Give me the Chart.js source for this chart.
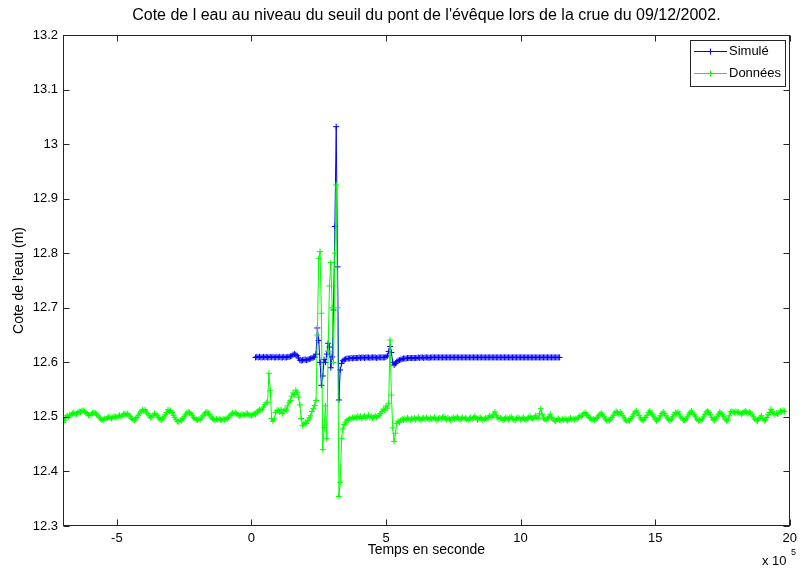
<!DOCTYPE html>
<html>
<head>
<meta charset="utf-8">
<script src="https://cdn.jsdelivr.net/npm/chart.js@4.4.0/dist/chart.umd.min.js"></script>
<style>
  html, body { margin: 0; padding: 0; background: #fff; }
  #wrap { width: 802px; height: 569px; }
</style>
</head>
<body>
<div id="wrap"><canvas id="chart" width="802" height="569"></canvas></div>
<script>
/* ===== textes ===== */
const titleText = "Cote de l eau au niveau du seuil du pont de l'évêque lors de la crue du 09/12/2002.";
const xTitle = "Temps en seconde";
const yTitle = "Cote de l'eau (m)";
const seriesNames = ["Simulé", "Données"];
const xExponent = "5";

/* ===== axes ===== */
const xMin = -700000, xMax = 2000000;
const xTickValues = [-500000, 0, 500000, 1000000, 1500000, 2000000];
const yMin = 12.3, yMax = 13.2;
const yTickValues = [12.3, 12.4, 12.5, 12.6, 12.7, 12.8, 12.9, 13.0, 13.1, 13.2];

/* ===== échantillonnage (s) ===== */
const sampleStep = 5000;
const donneesStart = -700000;
const simuleStart = 15000;

/* ===== mesures (m) ===== */
const donnees = [
  12.490, 12.494, 12.499, 12.502, 12.500, 12.504, 12.503, 12.506, 12.508, 12.506, 12.505, 12.508, 12.510, 12.509, 12.511, 12.512, 12.510, 12.508, 12.506, 12.503,
  12.503, 12.505, 12.507, 12.508, 12.507, 12.505, 12.502, 12.499, 12.496, 12.494, 12.495, 12.497, 12.496, 12.498, 12.500, 12.499, 12.497, 12.499, 12.501, 12.500,
  12.499, 12.501, 12.503, 12.500, 12.502, 12.505, 12.506, 12.504, 12.506, 12.503, 12.500, 12.497, 12.495, 12.494, 12.496, 12.499, 12.503, 12.507, 12.510, 12.513,
  12.511, 12.513, 12.509, 12.506, 12.502, 12.499, 12.500, 12.503, 12.506, 12.505, 12.502, 12.499, 12.496, 12.494, 12.497, 12.500, 12.504, 12.508, 12.513, 12.510,
  12.512, 12.508, 12.503, 12.499, 12.495, 12.492, 12.491, 12.494, 12.493, 12.497, 12.500, 12.504, 12.507, 12.509, 12.508, 12.506, 12.503, 12.499, 12.497, 12.495,
  12.494, 12.496, 12.495, 12.498, 12.502, 12.505, 12.508, 12.509, 12.507, 12.504, 12.500, 12.497, 12.495, 12.494, 12.496, 12.495, 12.497, 12.495, 12.494, 12.496,
  12.495, 12.497, 12.496, 12.499, 12.502, 12.505, 12.507, 12.506, 12.508, 12.506, 12.504, 12.502, 12.503, 12.505, 12.504, 12.503, 12.505, 12.506, 12.504, 12.503,
  12.502, 12.504, 12.506, 12.505, 12.508, 12.511, 12.513, 12.511, 12.514, 12.518, 12.522, 12.526, 12.527, 12.580, 12.548, 12.497, 12.492, 12.496, 12.508, 12.512,
  12.512, 12.509, 12.513, 12.506, 12.510, 12.514, 12.512, 12.520, 12.527, 12.530, 12.538, 12.544, 12.541, 12.549, 12.545, 12.536, 12.522, 12.497, 12.484, 12.487,
  12.490, 12.488, 12.494, 12.498, 12.502, 12.510, 12.515, 12.521, 12.530, 12.650, 12.790, 12.803, 12.690, 12.440, 12.480, 12.520, 12.460, 12.620, 12.740, 12.783,
  12.700, 12.600, 12.800, 12.925, 12.700, 12.354, 12.380, 12.460, 12.478, 12.486, 12.490, 12.494, 12.495, 12.497, 12.496, 12.499, 12.497, 12.500, 12.498, 12.501,
  12.499, 12.501, 12.497, 12.500, 12.502, 12.498, 12.500, 12.503, 12.499, 12.501, 12.498, 12.500, 12.502, 12.499, 12.501, 12.503, 12.506, 12.510, 12.514, 12.512,
  12.520, 12.516, 12.525, 12.641, 12.540, 12.480, 12.455, 12.470, 12.488, 12.492, 12.490, 12.494, 12.496, 12.494, 12.497, 12.495, 12.498, 12.496, 12.494, 12.497,
  12.496, 12.498, 12.495, 12.497, 12.499, 12.496, 12.494, 12.497, 12.498, 12.496, 12.499, 12.497, 12.495, 12.498, 12.496, 12.497, 12.499, 12.496, 12.494, 12.497,
  12.498, 12.496, 12.499, 12.501, 12.497, 12.495, 12.498, 12.496, 12.494, 12.497, 12.499, 12.496, 12.498, 12.500, 12.497, 12.495, 12.497, 12.499, 12.496, 12.498,
  12.496, 12.494, 12.497, 12.499, 12.496, 12.498, 12.501, 12.498, 12.495, 12.497, 12.499, 12.497, 12.494, 12.496, 12.498, 12.496, 12.499, 12.502, 12.499, 12.501,
  12.505, 12.509, 12.503, 12.499, 12.496, 12.498, 12.497, 12.494, 12.496, 12.499, 12.497, 12.495, 12.498, 12.500, 12.497, 12.495, 12.494, 12.497, 12.499, 12.497,
  12.495, 12.497, 12.499, 12.496, 12.494, 12.497, 12.499, 12.501, 12.498, 12.496, 12.499, 12.502, 12.499, 12.497, 12.506, 12.515, 12.504, 12.498, 12.496, 12.494,
  12.497, 12.500, 12.505, 12.499, 12.496, 12.494, 12.492, 12.495, 12.497, 12.494, 12.493, 12.496, 12.494, 12.497, 12.495, 12.493, 12.496, 12.498, 12.495, 12.497,
  12.495, 12.497, 12.496, 12.499, 12.502, 12.500, 12.503, 12.506, 12.508, 12.505, 12.503, 12.499, 12.497, 12.494, 12.496, 12.494, 12.497, 12.499, 12.502, 12.505,
  12.507, 12.504, 12.500, 12.496, 12.493, 12.495, 12.493, 12.496, 12.499, 12.503, 12.507, 12.510, 12.508, 12.505, 12.509, 12.506, 12.502, 12.498, 12.494, 12.492,
  12.494, 12.493, 12.497, 12.501, 12.505, 12.509, 12.511, 12.507, 12.503, 12.498, 12.495, 12.493, 12.496, 12.499, 12.503, 12.508, 12.511, 12.507, 12.504, 12.500,
  12.496, 12.493, 12.495, 12.498, 12.502, 12.506, 12.509, 12.506, 12.502, 12.498, 12.495, 12.493, 12.496, 12.500, 12.504, 12.508, 12.506, 12.509, 12.505, 12.500,
  12.497, 12.494, 12.493, 12.496, 12.500, 12.505, 12.508, 12.511, 12.507, 12.504, 12.500, 12.496, 12.493, 12.494, 12.493, 12.496, 12.500, 12.505, 12.509, 12.511,
  12.508, 12.504, 12.499, 12.495, 12.494, 12.497, 12.501, 12.505, 12.509, 12.507, 12.504, 12.500, 12.496, 12.493, 12.494, 12.502, 12.509, 12.510, 12.509, 12.508,
  12.510, 12.508, 12.509, 12.507, 12.505, 12.507, 12.509, 12.511, 12.508, 12.506, 12.509, 12.507, 12.504, 12.500, 12.496, 12.494, 12.493, 12.496, 12.499, 12.502,
  12.497, 12.493, 12.495, 12.499, 12.504, 12.508, 12.514, 12.510, 12.506, 12.504, 12.507, 12.505, 12.508, 12.511, 12.509, 12.512, 12.510
];

/* ===== modèle (m) ===== */
const simule = [
  12.609, 12.610, 12.609, 12.610, 12.609, 12.609, 12.610, 12.609, 12.610, 12.609, 12.609, 12.610, 12.609, 12.610, 12.609, 12.609, 12.610, 12.609, 12.610, 12.609,
  12.609, 12.610, 12.609, 12.609, 12.610, 12.610, 12.611, 12.612, 12.614, 12.615, 12.614, 12.612, 12.608, 12.604, 12.603, 12.604, 12.605, 12.605, 12.604, 12.605,
  12.606, 12.607, 12.608, 12.609, 12.610, 12.615, 12.663, 12.640, 12.600, 12.558, 12.575, 12.605, 12.600, 12.615, 12.635, 12.628, 12.590, 12.610, 12.696, 12.849,
  13.032, 12.775, 12.531, 12.586, 12.598, 12.603, 12.605, 12.606, 12.607, 12.607, 12.607, 12.608, 12.607, 12.608, 12.608, 12.608, 12.608, 12.609, 12.608, 12.609,
  12.609, 12.608, 12.609, 12.609, 12.609, 12.608, 12.609, 12.609, 12.609, 12.609, 12.608, 12.609, 12.609, 12.609, 12.609, 12.609, 12.609, 12.610, 12.612, 12.620,
  12.629, 12.618, 12.600, 12.595, 12.598, 12.601, 12.603, 12.604, 12.605, 12.606, 12.607, 12.607, 12.607, 12.608, 12.608, 12.608, 12.608, 12.608, 12.608, 12.608,
  12.608, 12.609, 12.608, 12.609, 12.609, 12.608, 12.609, 12.609, 12.609, 12.608, 12.609, 12.609, 12.609, 12.609, 12.609, 12.609, 12.609, 12.609, 12.609, 12.609,
  12.609, 12.609, 12.609, 12.609, 12.609, 12.609, 12.609, 12.609, 12.609, 12.609, 12.609, 12.609, 12.609, 12.609, 12.609, 12.609, 12.609, 12.609, 12.609, 12.609,
  12.609, 12.609, 12.609, 12.609, 12.609, 12.609, 12.609, 12.609, 12.609, 12.609, 12.609, 12.609, 12.609, 12.609, 12.609, 12.609, 12.609, 12.609, 12.609, 12.609,
  12.609, 12.609, 12.609, 12.609, 12.609, 12.609, 12.609, 12.609, 12.609, 12.609, 12.609, 12.609, 12.609, 12.609, 12.609, 12.609, 12.609, 12.609, 12.609, 12.609,
  12.609, 12.609, 12.609, 12.609, 12.609, 12.609, 12.609, 12.609, 12.609, 12.609, 12.609, 12.609, 12.609, 12.609, 12.609, 12.609, 12.609, 12.609, 12.609, 12.609,
  12.609, 12.609, 12.609, 12.609, 12.609, 12.609, 12.609
];

const seriesColors = ["#0000ff", "#00ff00"];
const FONT = "'Liberation Sans', Arial, Helvetica, sans-serif";

function toPoints(start, values) {
  return values.map((y, i) => ({ x: start + i * sampleStep, y: y }));
}

/* cadre, graduations vers l'intérieur, légende, x 10^5 */
const matlabFrame = {
  id: "matlabFrame",
  afterDraw(chart) {
    const ctx = chart.ctx;
    const a = chart.chartArea;
    const xs = chart.scales.x, ys = chart.scales.y;
    const L = Math.round(a.left) + 0.5, R = Math.round(a.right) - 0.5;
    const T = Math.round(a.top) + 0.5, B = Math.round(a.bottom) - 0.5;
    ctx.save();
    ctx.strokeStyle = "#262626";
    ctx.lineWidth = 1;
    ctx.strokeRect(L, T, R - L, B - T);

    const tl = 6;
    ctx.beginPath();
    xs.ticks.forEach(t => {
      const px = Math.round(xs.getPixelForValue(t.value)) + 0.5;
      ctx.moveTo(px, B); ctx.lineTo(px, B - tl);
      ctx.moveTo(px, T); ctx.lineTo(px, T + tl);
    });
    ys.ticks.forEach(t => {
      const py = Math.round(ys.getPixelForValue(t.value)) + 0.5;
      ctx.moveTo(L, py); ctx.lineTo(L + tl, py);
      ctx.moveTo(R, py); ctx.lineTo(R - tl, py);
    });
    ctx.stroke();

    // légende
    const bx = 690.5, by = 40.5, bw = 95, bh = 46;
    ctx.fillStyle = "#fff";
    ctx.fillRect(bx, by, bw, bh);
    ctx.strokeStyle = "#262626";
    ctx.strokeRect(bx, by, bw, bh);
    const rows = [51.5, 73.5];
    seriesNames.forEach((name, i) => {
      const y = rows[i];
      ctx.strokeStyle = seriesColors[i];
      ctx.beginPath();
      ctx.moveTo(694, y); ctx.lineTo(727, y);
      ctx.moveTo(710.5, y - 3); ctx.lineTo(710.5, y + 3);
      ctx.stroke();
      ctx.fillStyle = "#000";
      ctx.font = "13px " + FONT;
      ctx.textAlign = "left";
      ctx.textBaseline = "middle";
      ctx.fillText(name, 729, y);
    });

    // exposant de l'axe x
    ctx.fillStyle = "#000";
    ctx.font = "13px " + FONT;
    ctx.textAlign = "left";
    ctx.textBaseline = "middle";
    ctx.fillText("x 10", 762, 561);
    ctx.font = "9px " + FONT;
    ctx.fillText(xExponent, 791, 553);
    ctx.restore();
  }
};

const ctx = document.getElementById("chart").getContext("2d");
new Chart(ctx, {
  type: "scatter",
  data: {
    datasets: [
      {
        label: seriesNames[0],
        data: toPoints(simuleStart, simule),
        showLine: true,
        borderColor: seriesColors[0],
        borderWidth: 1,
        pointStyle: "cross",
        pointRadius: 3,
        pointBorderWidth: 1,
        pointBorderColor: seriesColors[0],
        backgroundColor: seriesColors[0],
        order: 2
      },
      {
        label: seriesNames[1],
        data: toPoints(donneesStart, donnees),
        showLine: true,
        borderColor: seriesColors[1],
        borderWidth: 1,
        pointStyle: "cross",
        pointRadius: 3,
        pointBorderWidth: 1,
        pointBorderColor: seriesColors[1],
        backgroundColor: seriesColors[1],
        order: 1
      }
    ]
  },
  options: {
    responsive: false,
    animation: false,
    events: [],
    layout: { padding: { left: 0, right: 8, top: 0, bottom: 0 } },
    plugins: {
      legend: { display: false },
      tooltip: { enabled: false },
      title: {
        display: true,
        fullSize: false,
        text: titleText,
        color: "#000",
        font: { family: FONT, size: 16, weight: "normal" },
        padding: { top: 6, bottom: 9.8 }
      }
    },
    scales: {
      x: {
        type: "linear",
        min: xMin,
        max: xMax,
        grid: { display: false, drawTicks: false },
        border: { display: false },
        afterBuildTicks: s => { s.ticks = xTickValues.map(v => ({ value: v })); },
        ticks: {
          autoSkip: false,
          maxRotation: 0,
          color: "#000",
          font: { family: FONT, size: 13 },
          padding: 5,
          callback: v => v / 1e5
        },
        title: {
          display: true,
          text: xTitle,
          color: "#000",
          font: { family: FONT, size: 14 },
          padding: { top: 0, bottom: 10.6 }
        },
        afterFit: s => { s.height = 43; }
      },
      y: {
        type: "linear",
        min: yMin,
        max: yMax,
        grid: { display: false, drawTicks: false },
        border: { display: false },
        afterBuildTicks: s => { s.ticks = yTickValues.map(v => ({ value: v })); },
        ticks: {
          autoSkip: false,
          color: "#000",
          font: { family: FONT, size: 13 },
          padding: 5,
          callback: v => Math.round(v * 10) / 10
        },
        title: {
          display: true,
          text: yTitle,
          color: "#000",
          font: { family: FONT, size: 14 },
          padding: { top: 10.6, bottom: 0 }
        },
        afterFit: s => { s.width = 63; }
      }
    }
  },
  plugins: [matlabFrame]
});
</script>
</body>
</html>
